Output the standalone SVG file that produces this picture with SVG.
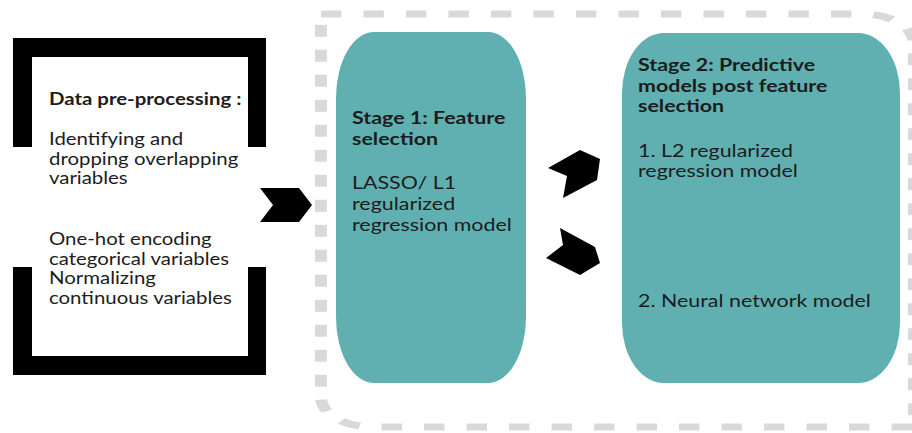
<svg xmlns="http://www.w3.org/2000/svg" width="912" height="433" viewBox="0 0 912 433">
<style>
.t{font-family:Lato,"Noto Sans","Liberation Sans",sans-serif;font-size:17px;fill:#1c1c1c}
.b{font-weight:bold}
.box{fill:#60b0b1}
.blk{fill:#000}
</style>
<rect width="912" height="433" fill="#fff"/>
<g id="container" transform="scale(1.7 1)">
<path d="M188.8,14 H507.6 A30,30 0 0 1 537.6,44 V427 H218.8 A30,30 0 0 1 188.8,397 Z" fill="none" stroke="#d9d9d9" stroke-width="7" stroke-dasharray="12 13"/>
</g>
<g id="preprocessing">
<path class="blk" d="M13,38 H266 V147 H248 V57 H32 V147 H13 Z"/>
<path class="blk" d="M13,267 H32 V356 H248 V267 H266 V375 H13 Z"/>
<g transform="translate(49 0) scale(1.2 1)">
<text class="t b" x="0" y="105">Data pre-processing :</text>
<text class="t" x="0" y="145">Identifying and</text>
<text class="t" x="0" y="165">dropping overlapping</text>
<text class="t" x="0" y="184">variables</text>
<text class="t" x="0" y="245">One-hot encoding</text>
<text class="t" x="0" y="265">categorical variables</text>
<text class="t" x="0" y="284">Normalizing</text>
<text class="t" x="0" y="304">continuous variables</text>
</g>
</g>
<g id="stage1">
<rect class="box" x="336" y="32" width="190" height="351" rx="38" ry="66"/>
<g transform="translate(352 0) scale(1.26 1)">
<text class="t b" x="0" y="124">Stage 1: Feature</text>
<text class="t b" x="0" y="145">selection</text>
<text class="t" x="0" y="189">LASSO/ L1</text>
<text class="t" x="0" y="210">regularized</text>
<text class="t" x="0" y="231">regression model</text>
</g>
</g>
<g id="stage2">
<rect class="box" x="622" y="33" width="278" height="350" rx="42" ry="60"/>
<g transform="translate(638 0) scale(1.26 1)">
<text class="t b" x="0" y="71">Stage 2: Predictive</text>
<text class="t b" x="0" y="92">models post feature</text>
<text class="t b" x="0" y="112">selection</text>
<text class="t" x="0" y="157">1. L2 regularized</text>
<text class="t" x="0" y="177">regression model</text>
<text class="t" x="0" y="307">2. Neural network model</text>
</g>
</g>
<g id="connectors">
<polygon class="blk" points="260,188 299,188 312,205 299,222 260,222 273,205"/>
<polygon class="blk" points="548,168 580,150 600,159 597,180 563,198 567,176"/>
<polygon class="blk" points="560,228 595,247 600,263 580,275 546,258 563,245"/>
</g>
</svg>
